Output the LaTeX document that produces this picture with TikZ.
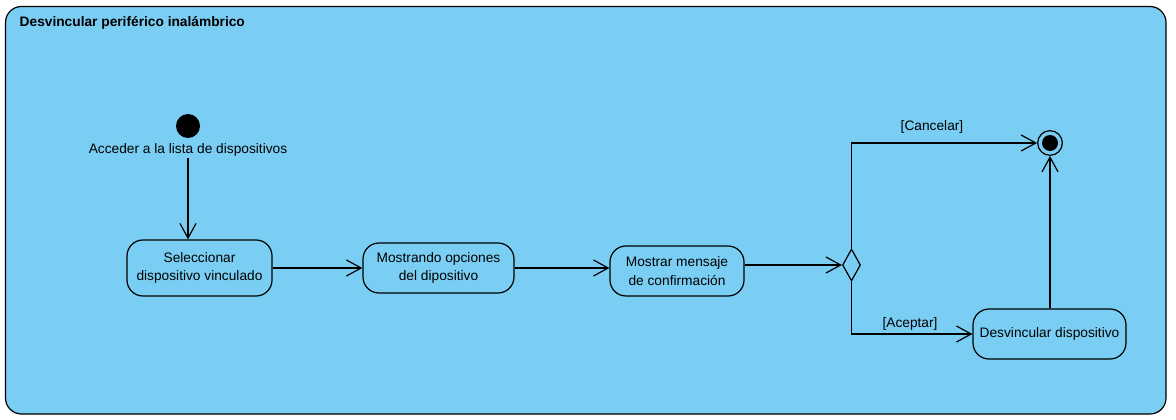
\documentclass[tikz,border=0pt]{standalone}
\usepackage{fontspec}
\setmainfont{Liberation Sans}
\usetikzlibrary{arrows.meta,shapes.geometric}
\definecolor{framefill}{HTML}{7ACEF3}
\tikzset{
  every node/.style={font=\fontsize{10.3}{14}\selectfont},
  act/.style={draw, line width=0.9pt, rounded corners=12pt, align=center, inner sep=0pt},
  flow/.style={draw, line width=0.9pt, -{Straight Barb[length=11pt,width=12pt,line width=0.9pt]}},
  lbl/.style={inner sep=1pt}
}
\begin{document}
\begin{tikzpicture}[x=0.75pt,y=-0.75pt]
\useasboundingbox (0,0) rectangle (1176,420);
\draw[line width=0.9pt, fill=framefill, rounded corners=12pt] (5.5,6.5) rectangle (1166,414);
\node[anchor=west, font=\fontsize{10.3}{12}\selectfont\bfseries] (title) at (15,23) {Desvincular periférico inalámbrico};

\node[circle, fill=black, minimum size=18pt, inner sep=0pt] (init) at (188,126) {};
\node[lbl] (initlbl) at (188,150) {Acceder a la lista de dispositivos};

\node[act, minimum width=108.75pt, minimum height=42pt] (b1) at (199.5,268) {Seleccionar\\dispositivo vinculado};
\node[act, minimum width=113.25pt, minimum height=37.5pt] (b2) at (438.5,268) {Mostrando opciones\\del dipositivo};
\node[act, minimum width=100.5pt, minimum height=37.5pt] (b3) at (677,271) {Mostrar mensaje\\de confirmación};
\node[act, minimum width=114.75pt, minimum height=37.5pt] (b4) at (1049.5,334) {Desvincular dispositivo};

\node[diamond, draw, line width=0.9pt, minimum width=13.5pt, minimum height=24pt, inner sep=0pt] (dec) at (851.5,265) {};

\node[circle, draw, line width=0.9pt, minimum size=18.5pt, inner sep=0pt] (fin) at (1050,143) {};
\node[circle, fill=black, minimum size=12pt, inner sep=0pt] (finin) at (fin) {};

\node[lbl] (lcancel) at (932,127) {[Cancelar]};
\node[lbl] (lacept) at (910,324) {[Aceptar]};

\draw[flow] (initlbl.south) -- (initlbl.south |- b1.north);
\draw[flow] (b1.east) -- (b2.west);
\draw[flow] (b2.east) -- (b2.east -| b3.west);
\draw[flow] (b3.east |- dec.west) -- (dec.west);
\draw[flow] (dec.north) |- (fin.west);
\draw[flow] (dec.south) |- (b4.west);
\draw[flow] (b4.north -| fin.south) -- (fin.south);
\end{tikzpicture}
\end{document}
